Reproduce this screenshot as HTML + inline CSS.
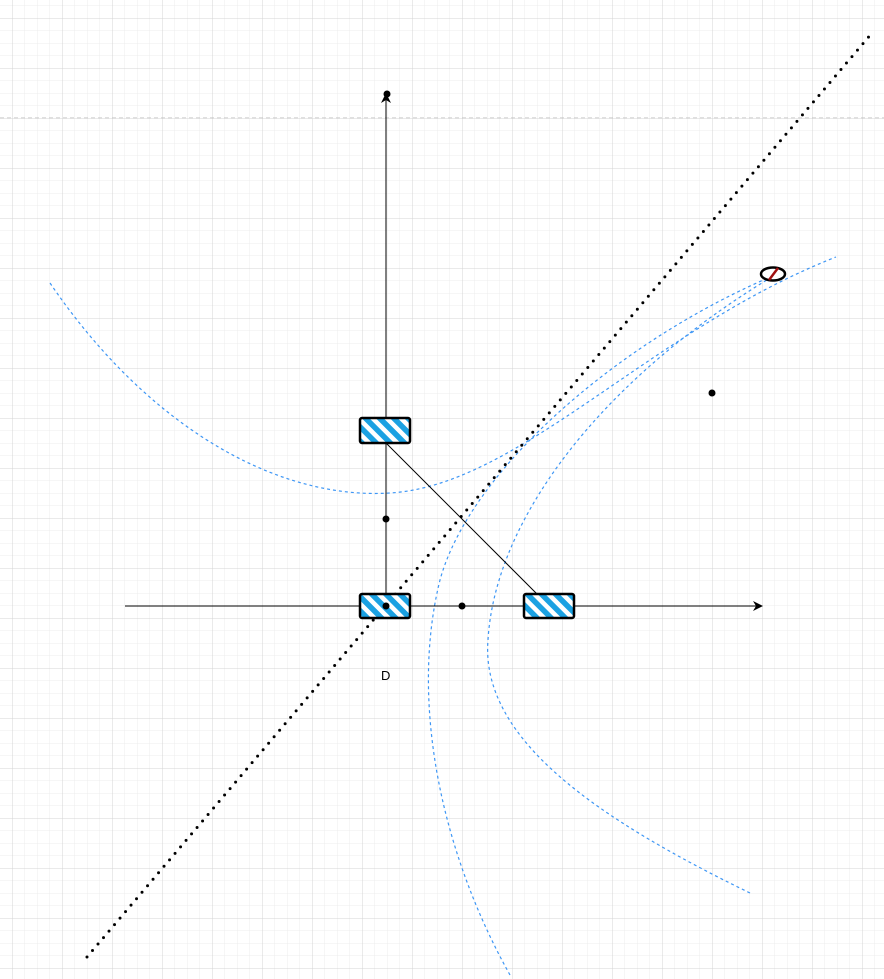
<!DOCTYPE html>
<html><head><meta charset="utf-8"><style>
html,body{margin:0;padding:0;background:#fff;}
svg{display:block;font-family:"Liberation Sans",sans-serif;}
</style></head><body>
<svg width="884" height="979" viewBox="0 0 884 979" xmlns="http://www.w3.org/2000/svg">
<defs>
<pattern id="minor" x="12" y="18" width="12.5" height="12.5" patternUnits="userSpaceOnUse">
<path d="M0 0H12.5M0 0V12.5" stroke="#ececec" stroke-width="1" fill="none"/>
</pattern>
<pattern id="major" x="12" y="18" width="50" height="50" patternUnits="userSpaceOnUse">
<path d="M0 0H50M0 0V50" stroke="#d4d4d4" stroke-width="1" fill="none"/>
</pattern>
<pattern id="hatch" width="10" height="10" patternUnits="userSpaceOnUse" patternTransform="rotate(-45)">
<rect width="10" height="10" fill="#fff"/><rect width="5.5" height="10" fill="#1ba1e2"/>
</pattern>
<marker id="arr" markerWidth="10" markerHeight="10" refX="9" refY="5" orient="auto" markerUnits="userSpaceOnUse">
<path d="M0 0L10 5L0 10L3 5Z" fill="#000"/>
</marker>
</defs>
<rect width="884" height="979" fill="url(#minor)"/>
<rect width="884" height="979" fill="url(#major)"/>
<line x1="0" y1="118" x2="884" y2="118" stroke="#c0c0c0" stroke-dasharray="4 3"/>

<g fill="none" stroke="#3d96f5" stroke-width="1.2" stroke-dasharray="3 3">
<path d="M50,283 C150,430 280,500 390,493 C520,485 650,330 836,257"/>
<path d="M510,975 C440,850 410,700 440,580 C470,470 620,340 775,275"/>
<path d="M750,893 C600,820 480,740 488,640 C495,520 600,380 775,275"/>
</g>

<line x1="125" y1="606" x2="762" y2="606" stroke="#000" marker-end="url(#arr)"/>
<line x1="386" y1="606" x2="386" y2="94" stroke="#000" marker-end="url(#arr)"/>
<line x1="386" y1="443" x2="537" y2="594" stroke="#000"/>
<line x1="87" y1="957" x2="872" y2="33" stroke="#000" stroke-width="3" stroke-dasharray="0 8.5" stroke-linecap="round"/>

<rect x="360" y="418" width="50" height="25" rx="2" fill="url(#hatch)" stroke="#000" stroke-width="2.5"/>
<rect x="360" y="594" width="50" height="24" rx="2" fill="url(#hatch)" stroke="#000" stroke-width="2.5"/>
<rect x="524" y="594" width="50" height="24" rx="2" fill="url(#hatch)" stroke="#000" stroke-width="2.5"/>

<g fill="#000">
<circle cx="387" cy="94" r="3.5"/>
<circle cx="386" cy="519" r="3.5"/>
<circle cx="386" cy="606" r="3.5"/>
<circle cx="462" cy="606" r="3.5"/>
<circle cx="712" cy="393" r="3.5"/>
</g>

<ellipse cx="773" cy="274" rx="12" ry="6.5" fill="#fff" stroke="#000" stroke-width="2.5"/>
<line x1="769" y1="280" x2="778" y2="268" stroke="#a01010" stroke-width="2.5"/>

<text x="381" y="680" font-size="13" fill="#000">D</text>
</svg>
</body></html>
